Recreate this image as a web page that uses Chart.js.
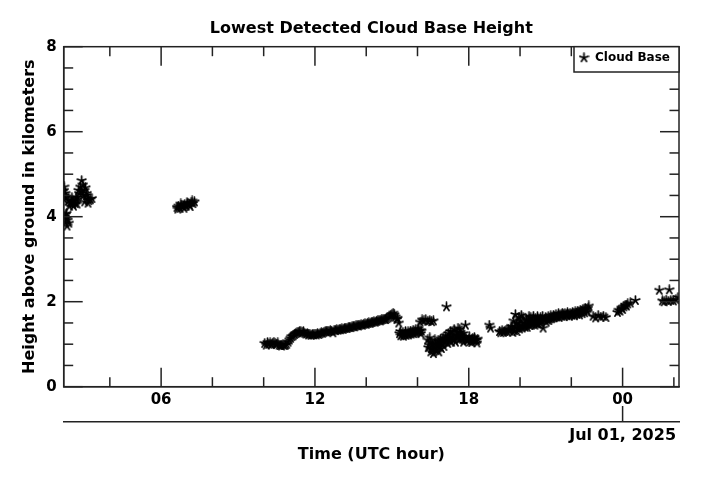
<!DOCTYPE html>
<html>
<head>
<meta charset="utf-8">
<script src="https://cdn.jsdelivr.net/npm/chart.js@4.4.1/dist/chart.umd.min.js"></script>
<style>
  html, body { margin: 0; padding: 0; background: #fff; }
  canvas { display: block; }
</style>
</head>
<body>
<canvas id="c" width="701" height="481"></canvas>
<script>
// ---------------- DATA ----------------
const chartTitle = 'Lowest Detected Cloud Base Height';
const seriesLabel = 'Cloud Base';
const xTitle = 'Time (UTC hour)';
const yTitle = 'Height above ground in kilometers';

// hours since 00 UTC Jun 30, 2025 (24 = 00 UTC Jul 01)
const timeHours = [
  // early cluster
  2.21,2.24,2.26,2.22,2.28,2.24,2.27,2.30,2.33,2.36,2.40,2.28,
  2.40,2.45,2.50,2.55,2.60,2.65,2.70,2.75,2.80,2.85,2.90,2.95,3.00,3.05,3.08,3.12,3.18,3.24,3.30,
  // cluster near 07
  6.62,6.68,6.74,6.80,6.86,6.92,6.98,7.04,7.10,7.17,7.24,7.30,
  // main band 10-12
  10.04,10.10,10.15,10.20,10.25,10.30,10.35,10.40,10.45,10.50,
  10.55,10.60,10.65,10.70,10.75,10.80,10.85,10.90,10.95,11.00,
  11.05,11.10,11.15,11.20,11.25,11.30,11.35,11.40,11.45,11.50,
  11.55,11.60,11.65,11.70,11.75,11.80,11.85,11.90,11.95,
  // main band 12-15
  12.00,12.05,12.10,12.15,12.20,12.25,12.30,12.35,12.40,12.45,
  12.50,12.55,12.60,12.65,12.70,12.75,12.80,12.85,12.90,12.95,
  13.00,13.05,13.10,13.15,13.20,13.25,13.30,13.35,13.40,13.45,
  13.50,13.55,13.60,13.65,13.70,13.75,13.80,13.85,13.90,13.95,
  14.00,14.05,14.10,14.15,14.20,14.25,14.30,14.35,14.40,14.45,
  14.50,14.55,14.60,14.65,14.70,14.75,14.80,14.85,14.90,14.95,
  15.00,15.05,15.10,15.15,15.20,15.22,15.27,
  // lower band 15-16
  15.30,15.35,15.40,15.45,15.50,15.55,15.60,15.65,15.70,15.75,
  15.80,15.85,15.90,15.95,16.00,16.05,16.10,16.15,
  16.10,16.18,16.25,16.32,16.40,16.48,16.55,16.62,
  // scattered 16-19
  16.40,16.45,16.50,16.55,16.60,16.65,16.70,16.75,16.80,16.85,
  16.90,16.95,17.00,17.05,17.10,17.13,17.15,17.20,17.25,17.30,
  17.35,17.40,17.45,17.50,17.55,17.60,17.65,17.70,17.75,17.80,
  17.87,17.90,17.95,18.00,18.05,18.10,18.15,18.20,18.25,18.30,
  18.35,18.80,18.85,
  // band 19-23
  19.20,19.25,19.30,19.35,19.40,19.45,19.50,19.55,19.60,19.65,
  19.70,19.75,19.80,19.85,19.90,19.95,20.00,20.05,20.10,20.15,
  20.20,20.25,20.30,20.35,20.40,20.45,20.50,20.55,20.60,20.65,
  20.70,20.75,20.80,20.85,20.90,20.95,21.00,21.05,21.10,21.15,
  21.20,21.25,21.30,21.35,21.40,21.45,21.50,21.55,21.60,21.65,
  21.70,21.75,21.80,21.85,21.90,21.95,22.00,22.05,22.10,22.15,
  22.20,22.25,22.30,22.35,22.40,22.45,22.50,22.55,22.60,22.65,
  // late
  22.85,22.95,23.05,23.15,23.25,23.35,
  23.80,23.85,23.90,23.95,24.00,24.05,24.10,24.15,24.20,24.30,24.50,
  25.43,25.82,25.55,25.62,25.70,25.78,25.88,25.98,26.08,26.16,
  // additional readings (overlapping, same periods)
  2.43,2.52,2.58,2.68,2.72,2.78,2.88,2.98,3.02,3.10,3.15,2.22,2.31,
  6.65,6.77,6.89,7.01,7.13,7.21,
  15.33,15.43,15.53,15.63,15.73,15.83,15.93,16.03,16.13,
  16.42,16.48,16.52,16.58,16.62,16.68,16.72,16.78,16.83,16.88,
  16.93,16.98,17.03,17.08,17.18,17.22,17.28,17.33,17.38,17.43,
  17.48,17.53,17.58,17.63,17.68,17.73,17.78,17.83,
  18.02,18.12,18.22,18.32,
  19.72,19.78,19.82,19.88,19.92,19.98,20.02,20.08,20.12,20.18,
  20.22,20.28,20.32,20.38,20.42,20.48,20.52,20.58,20.62,20.68,
  20.72,20.78,20.82,20.88,
  21.02,21.12,21.22,21.32,21.42,21.52,21.62,21.72,21.82,21.92,
  22.02,22.12,22.22,22.32,22.42,22.52,22.62,22.68
];

const cloudBaseKm = [
  4.62,4.50,4.55,4.40,4.45,4.00,3.85,3.95,3.78,3.92,3.85,4.05,
  4.38,4.32,4.36,4.30,4.35,4.31,4.40,4.45,4.55,4.70,4.85,4.75,4.62,4.68,4.50,4.42,4.38,4.40,4.43,
  4.22,4.25,4.20,4.27,4.24,4.29,4.25,4.31,4.28,4.33,4.31,4.35,
  1.02,0.98,1.04,1.00,1.03,0.99,1.02,1.05,1.01,1.00,
  1.03,0.98,0.97,0.96,0.99,0.97,0.98,1.00,1.05,1.10,
  1.14,1.18,1.20,1.23,1.25,1.27,1.28,1.30,1.29,1.27,
  1.30,1.26,1.24,1.25,1.22,1.24,1.21,1.23,1.22,
  1.24,1.22,1.25,1.23,1.25,1.27,1.26,1.28,1.30,1.29,
  1.31,1.30,1.32,1.31,1.27,1.33,1.32,1.34,1.33,1.35,
  1.34,1.36,1.35,1.37,1.38,1.37,1.39,1.40,1.39,1.41,
  1.42,1.41,1.43,1.44,1.43,1.45,1.46,1.45,1.47,1.48,
  1.47,1.49,1.50,1.49,1.51,1.52,1.53,1.52,1.54,1.55,
  1.56,1.55,1.57,1.58,1.59,1.58,1.60,1.62,1.64,1.67,
  1.70,1.73,1.69,1.64,1.58,1.61,1.50,
  1.25,1.20,1.22,1.19,1.23,1.21,1.24,1.22,1.25,1.24,
  1.27,1.25,1.28,1.27,1.30,1.29,1.32,1.31,
  1.52,1.57,1.55,1.58,1.54,1.56,1.53,1.55,
  1.10,0.98,1.05,0.90,0.85,0.95,1.02,0.88,1.08,0.95,
  1.12,1.00,1.15,1.05,1.20,1.88,1.10,1.25,1.08,1.18,
  1.30,1.12,1.22,1.15,1.28,1.18,1.35,1.22,1.12,1.05,
  1.45,1.10,1.08,1.12,1.06,1.10,1.13,1.08,1.11,1.09,
  1.12,1.45,1.38,
  1.30,1.27,1.32,1.28,1.30,1.33,1.29,1.35,1.31,1.42,
  1.36,1.55,1.40,1.48,1.38,1.62,1.45,1.68,1.42,1.50,
  1.40,1.58,1.47,1.66,1.52,1.45,1.55,1.50,1.60,1.48,
  1.56,1.52,1.62,1.55,1.38,1.58,1.63,1.57,1.65,1.60,
  1.67,1.62,1.68,1.64,1.70,1.66,1.72,1.68,1.70,1.73,
  1.69,1.72,1.70,1.74,1.71,1.73,1.70,1.75,1.72,1.76,
  1.73,1.78,1.75,1.80,1.77,1.82,1.79,1.84,1.81,1.85,
  1.66,1.62,1.68,1.64,1.66,1.63,
  1.75,1.80,1.78,1.85,1.82,1.88,1.92,1.90,1.95,1.97,2.03,
  2.27,2.28,2.02,2.00,2.04,2.01,2.03,2.02,2.05,2.10,
  4.25,4.45,4.25,4.45,4.30,4.62,4.60,4.50,4.35,4.55,4.32,4.70,4.08,
  4.18,4.30,4.20,4.33,4.24,4.37,
  1.30,1.28,1.30,1.29,1.31,1.33,1.34,1.36,1.25,
  0.92,1.15,0.82,1.00,0.78,1.10,0.85,0.98,0.82,1.05,
  0.90,1.08,0.95,1.12,1.02,1.15,1.30,1.05,1.20,1.35,
  1.05,1.20,1.38,1.10,1.28,1.18,1.25,1.15,
  1.18,1.04,1.16,1.03,
  1.28,1.32,1.70,1.30,1.50,1.36,1.55,1.38,1.62,1.42,
  1.48,1.40,1.55,1.44,1.62,1.48,1.66,1.45,1.52,1.65,
  1.47,1.58,1.50,1.66,
  1.52,1.56,1.60,1.62,1.64,1.63,1.66,1.65,1.67,1.66,
  1.68,1.67,1.70,1.69,1.72,1.74,1.76,1.90
];

const xRange = [2.2, 26.2];
const xTickHours = [4, 6, 8, 10, 12, 14, 16, 18, 20, 22, 24, 26];
const xLabelHours = [6, 12, 18, 24];
const xLabelText = ['06', '12', '18', '00'];
const dateTickHours = [24];
const dateLabel = 'Jul 01, 2025';
const yRange = [0, 8];
const yLabelValues = [0, 2, 4, 6, 8];

// ---------------- RENDER ----------------
const FONT = '"DejaVu Sans", "Liberation Sans", sans-serif';
Chart.defaults.font.family = FONT;
Chart.defaults.color = '#000';

function makeStar() {
  const c = document.createElement('canvas');
  c.width = 11; c.height = 11;
  const g = c.getContext('2d');
  g.strokeStyle = '#000';
  g.lineWidth = 1.7;
  g.lineCap = 'round';
  for (let k = 0; k < 5; k++) {
    const a = -Math.PI / 2 + k * 2 * Math.PI / 5;
    g.beginPath();
    g.moveTo(5.5, 5.5);
    g.lineTo(5.5 + 4.5 * Math.cos(a), 5.5 + 4.5 * Math.sin(a));
    g.stroke();
  }
  return c;
}
const starImg = makeStar();

const points = timeHours.map((t, i) => ({ x: t, y: cloudBaseKm[i] }));

const AXIS_COLOR = '#222';

const chrome = {
  id: 'chrome',
  afterDraw(chart) {
    const { ctx, chartArea: a } = chart;
    const { x, y, xd } = chart.scales;
    ctx.save();
    ctx.strokeStyle = AXIS_COLOR;
    ctx.lineWidth = 1.5;
    const line = (x1, y1, x2, y2) => { ctx.beginPath(); ctx.moveTo(x1, y1); ctx.lineTo(x2, y2); ctx.stroke(); };
    // ticks (inward) on all four sides
    x.ticks.forEach(t => {
      const px = x.getPixelForValue(t.value);
      const len = xLabelHours.includes(t.value) ? 19 : 9.5;
      line(px, a.bottom, px, a.bottom - len);
      line(px, a.top, px, a.top + len);
    });
    y.ticks.forEach(t => {
      const py = y.getPixelForValue(t.value);
      const len = yLabelValues.includes(t.value) ? 19 : 9.5;
      line(a.left, py, a.left + len, py);
      line(a.right, py, a.right - len, py);
    });
    ctx.strokeRect(a.left, a.top, a.right - a.left, a.bottom - a.top);
    // date axis tick
    dateTickHours.forEach(h => {
      const p = xd.getPixelForValue(h);
      line(p, xd.top - 16, p, xd.top);
    });
    // legend
    const lw = 105, lh = 25.3;
    const lx = a.right - lw, ly = a.top;
    ctx.fillStyle = '#fff';
    ctx.fillRect(lx, ly, lw, lh);
    ctx.strokeRect(lx, ly, lw, lh);
    ctx.drawImage(starImg, lx + 10 - 5.5, ly + 11 - 5.5);
    ctx.fillStyle = '#000';
    ctx.font = 'bold 12px ' + FONT;
    ctx.textAlign = 'left';
    ctx.textBaseline = 'middle';
    ctx.fillText(chart.data.datasets[0].label, lx + 21, ly + 11.5);
    // title
    ctx.font = 'bold 16px ' + FONT;
    ctx.textAlign = 'center';
    ctx.fillText(chartTitle, (a.left + a.right) / 2, 29);
    ctx.restore();
  }
};

new Chart(document.getElementById('c'), {
  type: 'scatter',
  data: {
    datasets: [{
      label: seriesLabel,
      data: points,
      pointStyle: starImg,
      pointRadius: 5,
      clip: 0,
    }]
  },
  options: {
    responsive: false,
    animation: false,
    events: [],
    layout: { padding: { top: 46.7, right: 22, left: 0, bottom: 0 } },
    plugins: {
      legend: { display: false },
      title: { display: false },
      tooltip: { enabled: false }
    },
    scales: {
      x: {
        type: 'linear', position: 'bottom', weight: 0,
        min: xRange[0], max: xRange[1],
        afterBuildTicks: s => { s.ticks = xTickHours.map(v => ({ value: v })); },
        ticks: {
          autoSkip: false, maxRotation: 0,
          padding: 4, color: '#000', font: { size: 15, weight: 'bold' },
          callback: v => { const i = xLabelHours.indexOf(v); return i >= 0 ? xLabelText[i] : ''; }
        },
        grid: { display: false, drawTicks: false },
        border: { display: true, color: AXIS_COLOR, width: 1.5 },
        afterFit: s => { s.height = 35.3; }
      },
      xd: {
        type: 'linear', position: 'bottom', weight: 1,
        min: xRange[0], max: xRange[1],
        afterBuildTicks: s => { s.ticks = dateTickHours.map(v => ({ value: v })); },
        ticks: {
          autoSkip: false, maxRotation: 0, padding: 4, color: '#000',
          font: { size: 16, weight: 'bold' },
          callback: () => dateLabel
        },
        grid: { display: false, drawTicks: false },
        border: { display: true, color: AXIS_COLOR, width: 1.5 },
        title: { display: true, text: xTitle, color: '#000', font: { size: 16, weight: 'bold' }, padding: { top: 0, bottom: 17 } },
        afterFit: s => { s.height = 59; }
      },
      y: {
        type: 'linear', position: 'left',
        min: yRange[0], max: yRange[1],
        ticks: {
          stepSize: 0.5, autoSkip: false, padding: 7, color: '#000',
          font: { size: 15, weight: 'bold' },
          callback: v => yLabelValues.includes(v) ? String(v) : ''
        },
        grid: { display: false, drawTicks: false },
        border: { display: true, color: AXIS_COLOR, width: 1.5 },
        title: { display: true, text: yTitle, color: '#000', font: { size: 16, weight: 'bold' }, padding: { top: 20, bottom: 0 } },
        afterFit: s => { s.width = 63.7; }
      }
    }
  },
  plugins: [chrome]
});
</script>
</body>
</html>
